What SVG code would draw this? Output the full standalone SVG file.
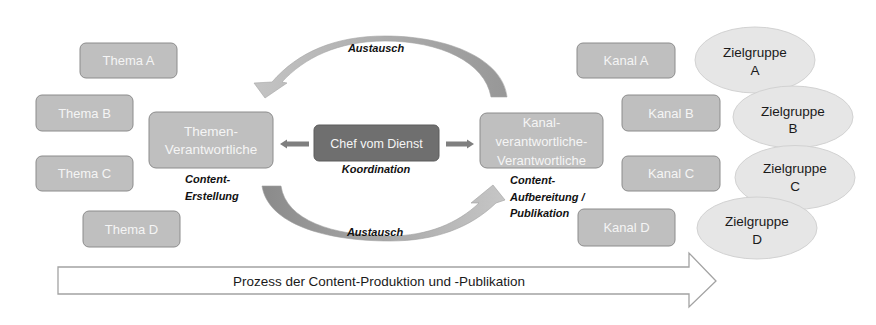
<svg xmlns="http://www.w3.org/2000/svg" width="876" height="325" viewBox="0 0 876 325">
<style>
.box{fill:#bfbfbf;stroke:#8c8c8c;stroke-width:1}
.bt{font-family:"Liberation Sans",Arial,sans-serif;font-size:13px;fill:#f5f5f5;text-anchor:middle}
.lbl{font-family:"Liberation Sans",Arial,sans-serif;font-size:11px;font-weight:bold;font-style:italic;fill:#111}
.ell{fill:#e6e6e6;stroke:#d2d2d2;stroke-width:1}
.et{font-family:"Liberation Sans",Arial,sans-serif;font-size:13.5px;fill:#1a1a1a;text-anchor:middle}
.sa{fill:#7f7f7f}
</style>
<defs>
<linearGradient id="gTop" x1="0" y1="0" x2="1" y2="0">
<stop offset="0" stop-color="#c4c4c4"/>
<stop offset="1" stop-color="#979797"/>
</linearGradient>
<linearGradient id="gBot" x1="0" y1="0" x2="1" y2="0">
<stop offset="0" stop-color="#8a8a8a"/>
<stop offset="1" stop-color="#c6c6c6"/>
</linearGradient>
</defs>
<rect width="876" height="325" fill="#ffffff"/>

<g id="connectors">
<path id="arc-top" d="M507,97 C503,60 450,36 385,36 C335,36 298,52 272,82 L254,83 L265,98 L287,83 L282,82 C304,58 338,41 385,41 C440,41 485,62 491,97 Z" fill="url(#gTop)" stroke="#a5a5a5" stroke-width="0.6"/>
<path id="arc-bottom" d="M262,186 C268,224 325,241 390,241 C435,241 470,228 496,203 L505,200 L493,185 L471,203 L479,203 C458,223 428,236 390,236 C332,236 286,220 281,186 Z" fill="url(#gBot)" stroke="#a0a0a0" stroke-width="0.6"/>
<path id="arrow-left" class="sa" d="M309,141.5 L287,141.5 L287,139.5 L280,144 L287,148.5 L287,146.5 L309,146.5 Z"/>
<path id="arrow-right" class="sa" d="M446,141.5 L467,141.5 L467,139.5 L474,144 L467,148.5 L467,146.5 L446,146.5 Z"/>
<path id="process" d="M58,267 L689,267 L689,253 L716,281 L689,307 L689,294 L58,294 Z" fill="#ffffff" stroke="#a3a3a3" stroke-width="1.3"/>
</g>

<g id="thema-a"><rect class="box" x="80" y="43" width="97" height="35" rx="6"/><text class="bt" x="128.5" y="65">Thema A</text></g>
<g id="thema-b"><rect class="box" x="36" y="95" width="97" height="36" rx="6"/><text class="bt" x="84.5" y="117.5">Thema B</text></g>
<g id="thema-c"><rect class="box" x="36" y="156" width="97" height="35" rx="6"/><text class="bt" x="84.5" y="178">Thema C</text></g>
<g id="thema-d"><rect class="box" x="83" y="211" width="97" height="36" rx="6"/><text class="bt" x="131.5" y="233.5">Thema D</text></g>

<g id="themen-verantwortliche"><rect class="box" x="149" y="112" width="124" height="56" rx="7"/><text class="bt" x="211" y="136" style="font-size:13.5px">Themen-</text><text class="bt" x="211" y="154" style="font-size:13.5px">Verantwortliche</text>
<text class="lbl" x="185" y="183">Content-</text><text class="lbl" x="185" y="200">Erstellung</text></g>

<g id="chef-vom-dienst"><rect x="314" y="125" width="125" height="36" rx="5" fill="#6f6f6f" stroke="#5c5c5c"/><text class="bt" x="376.5" y="148" style="font-size:12.5px">Chef vom Dienst</text>
<text class="lbl" x="376" y="173" text-anchor="middle">Koordination</text></g>

<g id="kanal-verantwortliche"><rect class="box" x="480" y="113" width="123" height="55" rx="7"/><text class="bt" x="541.5" y="126.5">Kanal-</text><text class="bt" x="541.5" y="145.5">verantwortliche-</text><text class="bt" x="541.5" y="164.5">Verantwortliche</text>
<text class="lbl" x="510" y="184">Content-</text><text class="lbl" x="510" y="201">Aufbereitung /</text><text class="lbl" x="510" y="217">Publikation</text></g>

<g id="austausch-labels"><text class="lbl" x="376" y="52" text-anchor="middle">Austausch</text><text class="lbl" x="375" y="236" text-anchor="middle">Austausch</text></g>

<g id="kanal-a"><rect class="box" x="577" y="43" width="98" height="35" rx="6"/><text class="bt" x="626" y="65">Kanal A</text></g>
<g id="kanal-b"><rect class="box" x="622" y="95" width="98" height="36" rx="6"/><text class="bt" x="671" y="117.5">Kanal B</text></g>
<g id="kanal-c"><rect class="box" x="622" y="156" width="98" height="35" rx="6"/><text class="bt" x="671" y="178">Kanal C</text></g>
<g id="kanal-d"><rect class="box" x="578" y="209" width="97" height="37" rx="6"/><text class="bt" x="626.5" y="232">Kanal D</text></g>

<g id="zielgruppe-a"><ellipse class="ell" cx="755" cy="60" rx="60" ry="33"/><text class="et" x="755" y="57">Zielgruppe</text><text class="et" x="755" y="75">A</text></g>
<g id="zielgruppe-b"><ellipse class="ell" cx="793" cy="117" rx="60" ry="31"/><text class="et" x="793" y="116">Zielgruppe</text><text class="et" x="793" y="133">B</text></g>
<g id="zielgruppe-c"><ellipse class="ell" cx="795" cy="177.5" rx="60" ry="32"/><text class="et" x="795" y="173">Zielgruppe</text><text class="et" x="795" y="191">C</text></g>
<g id="zielgruppe-d"><ellipse class="ell" cx="757" cy="228" rx="60" ry="31"/><text class="et" x="757" y="226">Zielgruppe</text><text class="et" x="757" y="244">D</text></g>

<g id="process-label"><text x="233" y="285.5" textLength="292" lengthAdjust="spacingAndGlyphs" style="font-family:'Liberation Sans',Arial,sans-serif;font-size:13px;fill:#1a1a1a">Prozess der Content-Produktion und -Publikation</text></g>
</svg>
